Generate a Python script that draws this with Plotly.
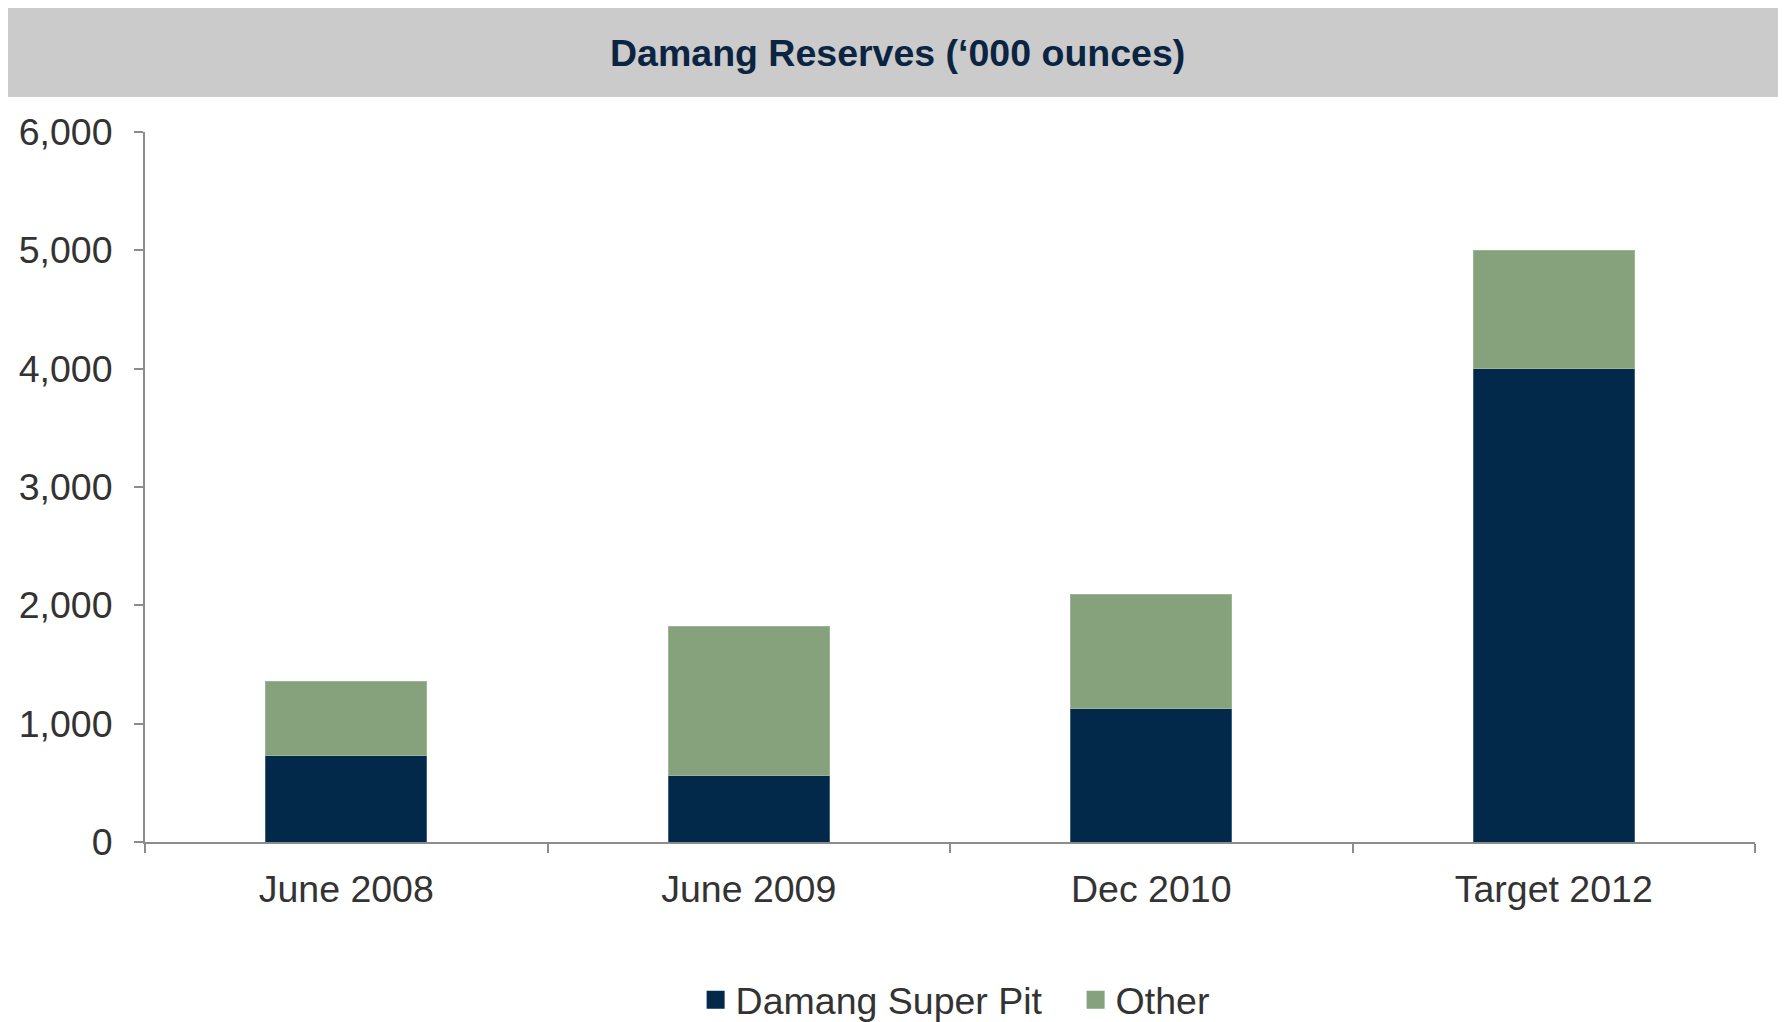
import plotly.graph_objects as go

categories = ["June 2008", "June 2009", "Dec 2010", "Target 2012"]
super_pit = [730, 560, 1130, 4000]
other = [630, 1260, 960, 1000]
y_ticks = [0, 1000, 2000, 3000, 4000, 5000, 6000]

navy = "#02284A"
green = "#85A27D"
font = "Liberation Sans, Arial, sans-serif"

fig = go.Figure()
fig.add_trace(go.Bar(x=categories, y=super_pit, name="Damang Super Pit",
                     marker=dict(color=navy, line=dict(color="#3F5F7F", width=1)),
                     width=0.4, showlegend=False))
fig.add_trace(go.Bar(x=categories, y=other, name="Other",
                     marker=dict(color=green, line=dict(color="#9DB597", width=1)),
                     width=0.4, showlegend=False))

# legend entries with bigger square swatches
for name, col in [("Damang Super Pit", navy), ("Other", green)]:
    fig.add_trace(go.Scatter(x=[None], y=[None], mode="markers", name=name,
                             marker=dict(symbol="square", size=16, color=col,
                                         line=dict(color=col, width=2))))

# grey title band
fig.add_shape(type="rect", xref="paper", yref="paper",
              x0=-0.0857, x1=1.02, y0=1.0493, y1=1.18,
              fillcolor="#CBCBCB", line=dict(width=0), layer="below")
fig.add_annotation(text="<b>Damang Reserves (‘000 ounces)</b>", xref="paper", yref="paper",
                   x=0.4677, y=1.1106, showarrow=False, xanchor="center", yanchor="middle",
                   font=dict(family=font, size=37.5, color="#0B2442"))

fig.update_layout(
    barmode="stack",
    width=1770, height=1014,
    margin=dict(l=137, r=23, t=124, b=180, autoexpand=False),
    paper_bgcolor="white", plot_bgcolor="white",
    font=dict(family=font, size=37.5, color="#333333"),
    showlegend=True,
    legend=dict(orientation="h", x=0.342, xanchor="left", y=-0.2225, yanchor="middle",
                entrywidth=335, entrywidthmode="pixels",
                font=dict(size=37.5, color="#333333"), traceorder="normal"),
)
fig.update_yaxes(range=[0, 6000], tickvals=y_ticks, tickformat=",d",
                 showgrid=False, zeroline=False,
                 showline=True, linecolor="#8C8C8C", linewidth=2,
                 ticks="outside", ticklen=9, tickcolor="#8C8C8C", tickwidth=2,
                 ticklabelstandoff=14)
fig.update_xaxes(showgrid=False, showline=True, linecolor="#8C8C8C", linewidth=2,
                 ticks="outside", tickson="boundaries", ticklen=9,
                 tickcolor="#8C8C8C", tickwidth=2, ticklabelstandoff=13)

fig.write_html("out.html")
